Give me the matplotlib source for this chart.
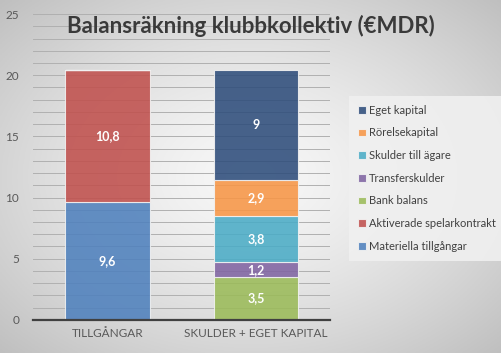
import numpy as np
import matplotlib.pyplot as plt
from matplotlib.ticker import MultipleLocator

# data
categories = ['TILLGÅNGAR', 'SKULDER + EGET KAPITAL']
series_names = ['Materiella tillgångar', 'Aktiverade spelarkontrakt', 'Bank balans',
                'Transferskulder', 'Skulder till ägare', 'Rörelsekapital', 'Eget kapital']
materiella = [9.6, 0]
aktiverade = [10.8, 0]
bank = [0, 3.5]
transfer = [0, 1.2]
skulder_agare = [0, 3.8]
rorelse = [0, 2.9]
eget = [0, 9]
colors = ['#4f81bd', '#c0504d', '#9bbb59', '#8064a2', '#4bacc6', '#f79646', '#2e4d7b']

plt.rcParams['font.family'] = ['Lato', 'DejaVu Sans']

fig = plt.figure(figsize=(5.02, 3.53), dpi=100)

# gradient background, light centre and grey edges
bg = fig.add_axes([0, 0, 1, 1], zorder=-10)
yy, xx = np.mgrid[-1:1:200j, -1:1:300j]
r = np.sqrt(xx ** 2 + yy ** 2) / np.sqrt(2)
g = 0.97 - 0.22 * r ** 1.4
bg.imshow(np.dstack([g, g, g]), aspect='auto', extent=[0, 1, 0, 1])
bg.axis('off')

ax = fig.add_axes([0.066, 0.094, 0.592, 0.866])
ax.set_facecolor('none')

series = [materiella, aktiverade, bank, transfer, skulder_agare, rorelse, eget]
x = np.arange(len(categories))
bottom = np.zeros(len(categories))
handles = []
for name, vals, col in zip(series_names, series, colors):
    vals = np.array(vals, dtype=float)
    bars = ax.bar(x, vals, 0.57, bottom=bottom, color=col, alpha=0.88,
                  edgecolor='#f2f2f2', linewidth=0.8, label=name, zorder=2)
    handles.append(bars)
    for xi, v, b in zip(x, vals, bottom):
        if v > 0:
            ax.text(xi, b + v / 2, f'{v:g}'.replace('.', ','), ha='center', va='center',
                    color='white', fontsize=9, fontweight='bold', zorder=3)
    bottom += vals

ax.set_xlim(-0.5, 1.5)
ax.set_ylim(0, 25)
ax.yaxis.set_major_locator(MultipleLocator(5))
ax.yaxis.set_minor_locator(MultipleLocator(1))
ax.grid(which='both', axis='y', color='#b0b0b0', linewidth=0.7, zorder=0)
ax.set_axisbelow(True)
for s in ['top', 'right', 'left']:
    ax.spines[s].set_visible(False)
ax.spines['bottom'].set_color('#404040')
ax.spines['bottom'].set_linewidth(1.6)
ax.spines['bottom'].set_zorder(4)
ax.tick_params(axis='both', which='both', length=0, colors='#595959', labelsize=8.5)
ax.tick_params(axis='y', pad=10)
ax.tick_params(axis='x', pad=6)
ax.set_xticks(x)
ax.set_xticklabels(categories)

fig.text(0.5, 0.927, 'Balansräkning klubbkollektiv (€MDR)', ha='center', va='center',
         fontsize=16, fontweight='bold', color='#3a3a3a', zorder=5)

leg = fig.legend(handles[::-1], series_names[::-1], loc='center left',
                 bbox_to_anchor=(0.684, 0.495), fontsize=8, frameon=True,
                 fancybox=False, handlelength=0.7, handleheight=0.7,
                 handletextpad=0.3, labelspacing=1.05, borderpad=0.8,
                 labelcolor='#404040')
leg.get_frame().set_facecolor('#f0f0f0')
leg.get_frame().set_edgecolor('none')
leg.get_frame().set_alpha(0.9)

fig.savefig('out.png', dpi=100)
